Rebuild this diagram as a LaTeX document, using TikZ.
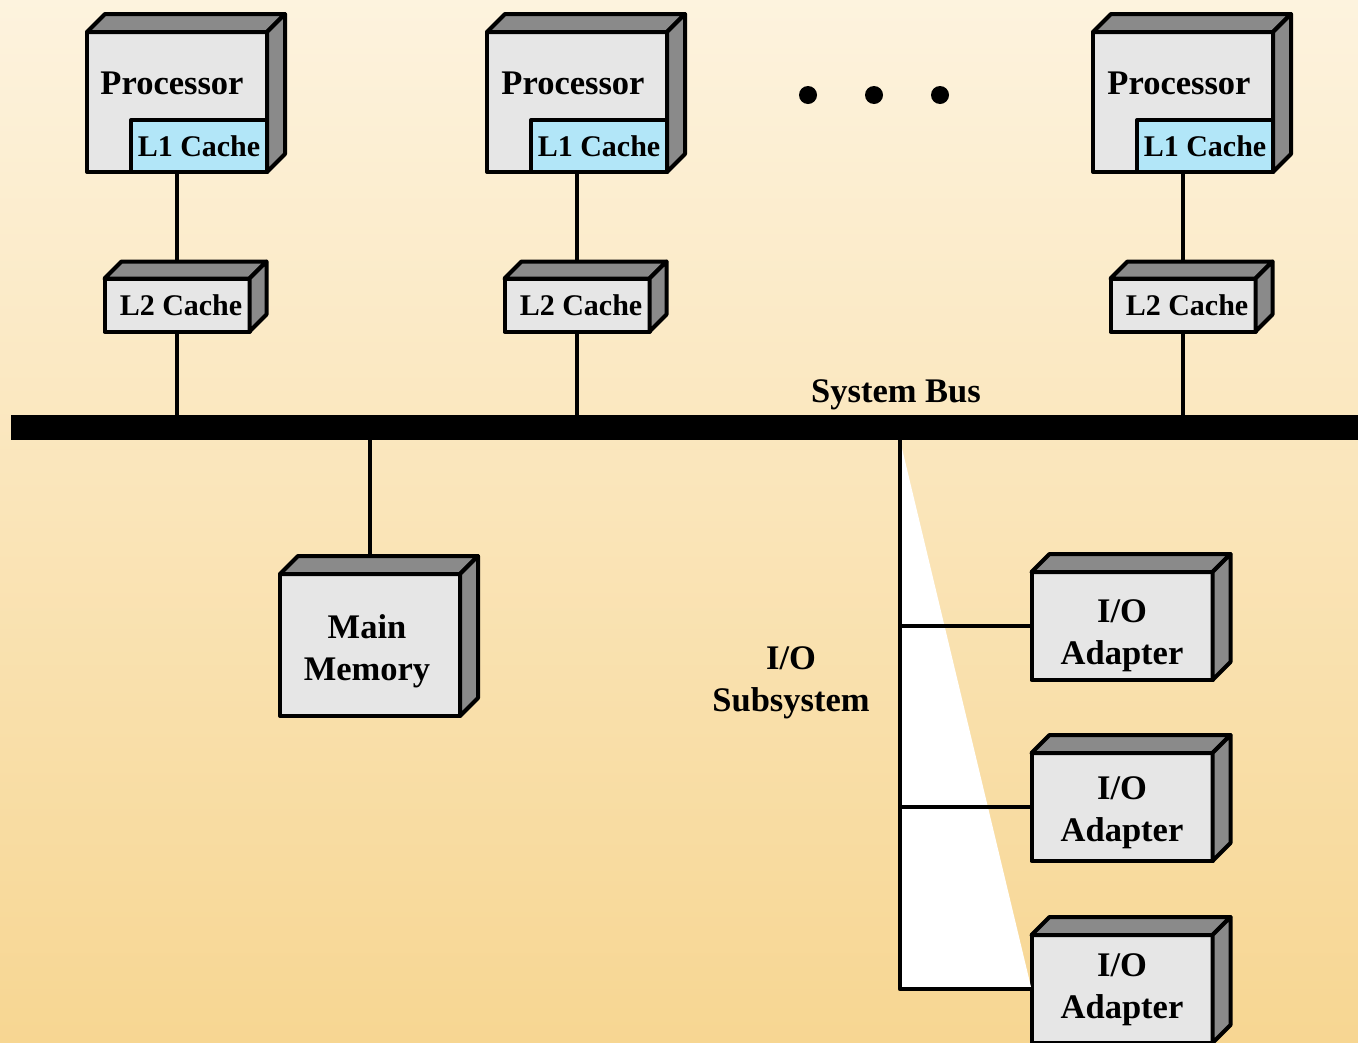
\documentclass[tikz,border=0pt]{standalone}
\usepackage{fontspec}
\setmainfont{Liberation Serif}
\begin{document}
\begin{tikzpicture}[x=1pt,y=-1pt,line join=round,
  front/.style={draw=black, line width=4pt, fill=boxgray, inner sep=0pt, outer sep=0pt},
  face/.style={draw=black, line width=4pt, fill=sidegray},
  link/.style={draw=black, line width=4.5pt},
  big/.style={font=\fontsize{34.5}{42}\selectfont\bfseries, align=center, inner sep=0pt},
  small/.style={font=\fontsize{30}{36}\selectfont\bfseries, inner sep=0pt},
  l1box/.style={draw=black, line width=4pt, fill=cachecyan, inner sep=0pt, outer sep=0pt,
    minimum width=136pt, minimum height=52pt, anchor=south east, small}]

\definecolor{boxgray}{RGB}{230,230,230}
\definecolor{sidegray}{RGB}{138,138,138}
\definecolor{cachecyan}{RGB}{178,230,248}
\definecolor{bgtop}{RGB}{253,243,222}
\definecolor{bgbottom}{RGB}{247,214,146}

% a box drawn as a front face with a shaded top and right side
\newcommand{\solidbox}[5]{% name, centre, width, height, depth
  \node[front, minimum width=#3, minimum height=#4] (#1) at #2 {};
  \draw[face] (#1.north west) -- ++(#5,-#5) -- ([shift={(#5,-#5)}]#1.north east) -- (#1.north east) -- cycle;
  \draw[face] (#1.north east) -- ([shift={(#5,-#5)}]#1.north east) -- ([shift={(#5,-#5)}]#1.south east) -- (#1.south east) -- cycle;
}

% background
\useasboundingbox (0,0) rectangle (1358,1042);
\shade[top color=bgtop, bottom color=bgbottom] (0,0) rectangle (1358,1042);

% system bus
\node[fill=black, inner sep=0pt, outer sep=0pt, minimum width=1347pt, minimum height=25pt, anchor=north west] (bus) at (11,415) {};
\node[big] (buslabel) at (896,395) {System Bus};

% coordinates of the box centres
\coordinate (p1c) at (177,102);
\coordinate (p2c) at (577,102);
\coordinate (p3c) at (1183,102);
\coordinate (l2c1) at (177,305);
\coordinate (l2c2) at (577,305);
\coordinate (l2c3) at (1183,305);
\coordinate (memc) at (370,645);
\coordinate (io1c) at (1122,626);
\coordinate (io2c) at (1122,807);
\coordinate (io3c) at (1122,989);
\coordinate (tap) at (900,440);

% links from processors down to the bus
\foreach \i in {1,2,3}{
  \draw[link] (p\i c) -- (l2c\i);
  \draw[link] (l2c\i) -- (l2c\i |- bus.north);
}
% main memory link
\draw[link] (bus.south -| memc) -- (memc);

% I/O adapters
\solidbox{io1}{(io1c)}{181pt}{108pt}{18}
\solidbox{io2}{(io2c)}{181pt}{108pt}{18}
\solidbox{io3}{(io3c)}{181pt}{108pt}{18}
\node[big] (io1t) at (1122,636) {I/O\\Adapter};
\node[big] (io2t) at (1122,813) {I/O\\Adapter};
\node[big] (io3t) at (1122,990) {I/O\\Adapter};

% I/O subsystem: white wedge and its branches
\fill[white] (tap) -- (tap |- io3.west) -- (io3.west) -- cycle;
\draw[link] (tap) -- (tap |- io3.west) -- (io3.west);
\draw[link] (tap |- io1.west) -- (io1.west);
\draw[link] (tap |- io2.west) -- (io2.west);

% processors with their L1 caches
\solidbox{p1}{(p1c)}{180pt}{140pt}{18}
\solidbox{p2}{(p2c)}{180pt}{140pt}{18}
\solidbox{p3}{(p3c)}{180pt}{140pt}{18}
\node[big] (p1t) at (172,83) {Processor};
\node[big] (p2t) at (573,83) {Processor};
\node[big] (p3t) at (1179,83) {Processor};
\node[l1box] (l1a) at (p1.south east) {\raisebox{-2pt}{L1 Cache}};
\node[l1box] (l1b) at (p2.south east) {\raisebox{-2pt}{L1 Cache}};
\node[l1box] (l1c) at (p3.south east) {\raisebox{-2pt}{L1 Cache}};

% L2 caches
\solidbox{l2a}{(l2c1)}{145pt}{53pt}{17}
\solidbox{l2b}{(l2c2)}{145pt}{53pt}{17}
\solidbox{l2c}{(l2c3)}{145pt}{53pt}{17}
\node[small] (l2at) at (181,305) {L2 Cache};
\node[small] (l2bt) at (581,305) {L2 Cache};
\node[small] (l2ct) at (1187,305) {L2 Cache};

% main memory
\solidbox{mem}{(memc)}{180pt}{142pt}{18}
\node[big] (memt) at (367,651) {Main\\Memory};

\node[big] (iolabel) at (791,683) {I/O\\Subsystem};

% ellipsis between processors
\fill (808,95) circle (9) (874,95) circle (9) (940,95) circle (9);
\end{tikzpicture}
\end{document}
